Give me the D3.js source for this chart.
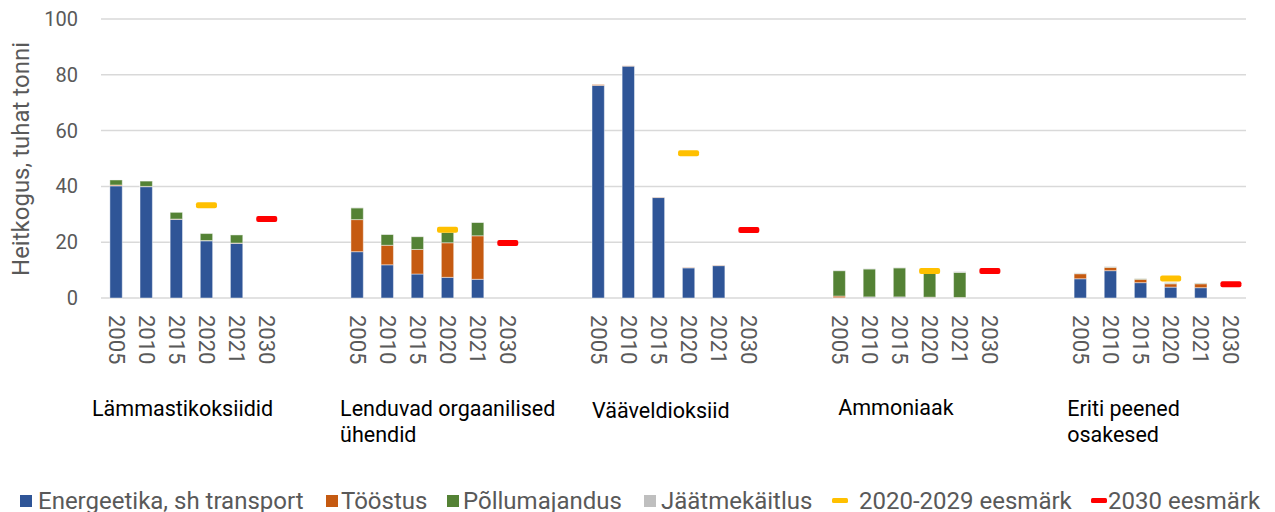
<!DOCTYPE html>
<html>
<head>
	<title>Heitkogused</title>
	<meta charset="utf-8">
	<script src="https://d3js.org/d3.v7.min.js"></script>
	<style>
		body { margin: 0; background: #fff; }
		text { font-family: Roboto, "Open Sans", sans-serif; }
	</style>
</head>
<body>
	<script type="text/javascript">
		// data (tuhat tonni)
		var years = ["2005", "2010", "2015", "2020", "2021", "2030"]
		var groups = ["Lämmastikoksiidid", "Lenduvad orgaanilised ühendid", "Vääveldioksiid", "Ammoniaak", "Eriti peened osakesed"]
		var groupLines = [["Lämmastikoksiidid"], ["Lenduvad orgaanilised", "ühendid"], ["Vääveldioksiid"], ["Ammoniaak"], ["Eriti peened", "osakesed"]]

		var energy = [
			[40.2, 39.9, 28.2, 20.5, 19.6, 0],
			[16.6, 11.9, 8.6, 7.4, 6.7, 0],
			[76.2, 83.1, 36.0, 10.8, 11.6, 0],
			[0.1, 0.3, 0.3, 0.2, 0.1, 0],
			[6.9, 9.8, 5.5, 3.9, 3.7, 0]
		]
		var industry = [
			[0.3, 0.1, 0.1, 0.1, 0.1, 0],
			[11.5, 7.0, 8.8, 12.4, 15.6, 0],
			[0.3, 0.1, 0.1, 0.1, 0.1, 0],
			[0.6, 0.1, 0.1, 0.1, 0.1, 0],
			[1.8, 1.2, 1.2, 1.2, 1.4, 0]
		]
		var agriculture = [
			[1.8, 1.9, 2.4, 2.5, 2.9, 0],
			[4.2, 3.9, 4.6, 3.7, 4.8, 0],
			[0, 0, 0, 0, 0, 0],
			[9.1, 10.0, 10.4, 8.9, 9.0, 0],
			[0.1, 0.1, 0.2, 0.2, 0.2, 0]
		]
		var waste = [
			[0, 0, 0, 0, 0, 0],
			[0.1, 0.1, 0.1, 0.1, 0.1, 0],
			[0, 0, 0, 0, 0, 0],
			[0.1, 0.1, 0.1, 0.2, 0.3, 0],
			[0.2, 0.2, 0.1, 0.3, 0.1, 0]
		]
		var target2020 = [33.2, 24.5, 51.9, 9.7, 7.0]
		var target2030 = [28.3, 19.7, 24.4, 9.7, 4.9]
		var yTicks = [0, 20, 40, 60, 80, 100]

		var seriesNames = ["Energeetika, sh transport", "Tööstus", "Põllumajandus", "Jäätmekäitlus"]
		var seriesKeys = ["energy", "industry", "agriculture", "waste"]
		var colors = {energy: "#2F5597", industry: "#C55A11", agriculture: "#548235", waste: "#BFBFBF"}

		var width = 1275
		var height = 512
		var plotL = 101, plotR = 1246, plotT = 19, plotB = 298

		var svg = d3.select("body").append("svg")
			.attr("width", width)
			.attr("height", height)

		// slots: 6 years per group, 2 empty slots between groups
		var slots = []
		groups.forEach(function(g, gi) {
			years.forEach(function(yr) { slots.push(gi + "-" + yr) })
			if (gi < groups.length - 1) { slots.push(gi + "-b1"); slots.push(gi + "-b2") }
		})

		var x = d3.scaleBand().domain(slots).range([plotL, plotR])
			.paddingInner(0.59).paddingOuter(0.295)
		var step = x.step()
		var cx = function(key) { return x(key) + x.bandwidth() / 2 }

		var y = d3.scaleLinear().domain([0, 100]).range([plotB, plotT])

		// gridlines
		svg.append("g").selectAll("line")
			.data(yTicks)
			.enter()
			.append("line")
			.attr("x1", plotL).attr("x2", plotR)
			.attr("y1", d => y(d)).attr("y2", d => y(d))
			.attr("stroke", "#d9d9d9")
			.attr("stroke-width", 1.5)

		var yAxis = svg.append("g")
			.attr("transform", "translate(" + (plotL - 23) + ",0)")
			.call(d3.axisLeft(y).tickValues(yTicks).tickSize(0).tickPadding(0))
		yAxis.select(".domain").remove()
		yAxis.selectAll("text")
			.attr("fill", "#595959")
			.style("font-size", "20px")

		svg.append("text")
			.attr("transform", "translate(29,159) rotate(-90)")
			.attr("text-anchor", "middle")
			.attr("fill", "#595959")
			.style("font-size", "24px")
			.text("Heitkogus, tuhat tonni")

		// table for stacking
		var rows = []
		groups.forEach(function(g, gi) {
			years.forEach(function(yr, yi) {
				rows.push({
					key: gi + "-" + yr,
					energy: energy[gi][yi],
					industry: industry[gi][yi],
					agriculture: agriculture[gi][yi],
					waste: waste[gi][yi]
				})
			})
		})
		var stacked = d3.stack().keys(seriesKeys)(rows)

		svg.append("g").selectAll("g")
			.data(stacked)
			.enter()
			.append("g")
			.attr("fill", d => colors[d.key])
			.selectAll("rect")
			.data(d => d.filter(p => p[1] - p[0] > 0))
			.enter()
			.append("rect")
			.attr("x", d => x(d.data.key))
			.attr("width", x.bandwidth())
			.attr("y", d => y(d[1]))
			.attr("height", d => y(d[0]) - y(d[1]))
			.attr("stroke", "rgba(255,255,255,0.45)")
			.attr("stroke-width", 1)

		// targets
		function targets(vals, yr, color) {
			svg.append("g").selectAll("rect")
				.data(vals)
				.enter()
				.append("rect")
				.attr("x", (d, i) => cx(i + "-" + yr) - 10.5)
				.attr("y", d => y(d) - 3)
				.attr("width", 21)
				.attr("height", 6)
				.attr("rx", 2)
				.attr("fill", color)
		}
		targets(target2020, "2020", "#FFC000")
		targets(target2030, "2030", "#FF0000")

		// year labels
		svg.append("g").selectAll("text")
			.data(rows)
			.enter()
			.append("text")
			.attr("transform", d => "translate(" + cx(d.key) + ",315) rotate(90)")
			.attr("dominant-baseline", "central")
			.attr("fill", "#595959")
			.style("font-size", "22px")
			.text(d => d.key.split("-")[1])

		// group labels
		var labelShift = [-9, -2, 9, 14, 2]
		var labelBase = [416, 416, 418, 415, 416]
		var gl = svg.append("g").selectAll("text")
			.data(groupLines)
			.enter()
			.append("text")
			.attr("x", (d, i) => x(i + "-2005") - step * 0.295 + labelShift[i])
			.attr("y", (d, i) => labelBase[i])
			.attr("fill", "#000")
			.style("font-size", "21.5px")
		gl.selectAll("tspan")
			.data(d => d)
			.enter()
			.append("tspan")
			.attr("x", function() { return d3.select(this.parentNode).attr("x") })
			.attr("dy", (d, i) => i === 0 ? 0 : 26)
			.text(d => d)

		// legend
		var legendItems = [
			{name: seriesNames[0], color: colors.energy, type: "box", x: 20, tx: 38},
			{name: seriesNames[1], color: colors.industry, type: "box", x: 326, tx: 341},
			{name: seriesNames[2], color: colors.agriculture, type: "box", x: 447, tx: 463},
			{name: seriesNames[3], color: colors.waste, type: "box", x: 644, tx: 661},
			{name: "2020-2029 eesmärk", color: "#FFC000", type: "dash", x: 832, tx: 859},
			{name: "2030 eesmärk", color: "#FF0000", type: "dash", x: 1091, tx: 1108}
		]
		var lg = svg.append("g").selectAll("g")
			.data(legendItems)
			.enter()
			.append("g")
		lg.filter(d => d.type === "box").append("rect")
			.attr("x", d => d.x).attr("y", 495).attr("width", 12).attr("height", 12)
			.attr("fill", d => d.color)
		lg.filter(d => d.type === "dash").append("rect")
			.attr("x", d => d.x).attr("y", 498).attr("width", 16).attr("height", 5)
			.attr("rx", 1.5)
			.attr("fill", d => d.color)
		lg.append("text")
			.attr("x", d => d.tx)
			.attr("y", 509)
			.attr("fill", "#595959")
			.style("font-size", "24px")
			.text(d => d.name)
	</script>
</body>
</html>
